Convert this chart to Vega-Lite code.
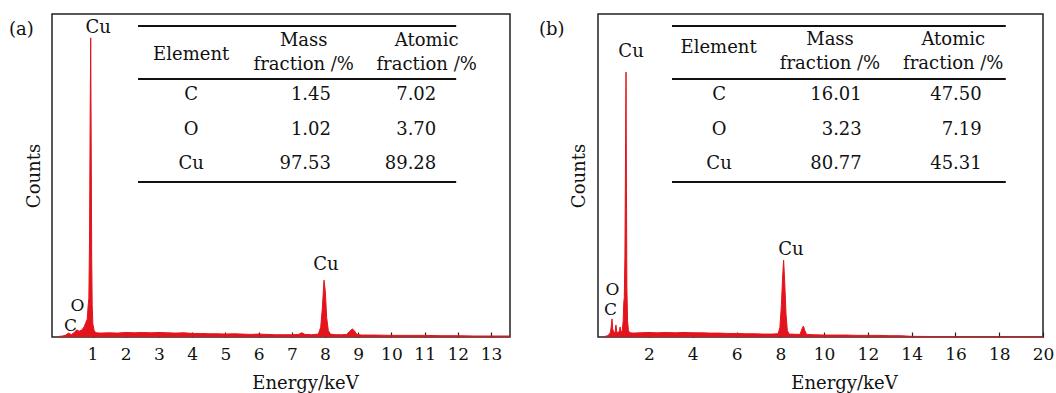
{
  "$schema": "https://vega.github.io/schema/vega-lite/v6.json",
  "background": "white",
  "padding": {"left": 8, "top": 13, "right": 5, "bottom": 0},
  "autosize": {"type": "pad"},
  "bounds": "flush",
  "spacing": 88,
  "config": {
    "font": "DejaVu Serif",
    "view": {"stroke": "#222", "strokeWidth": 1.5},
    "text": {"font": "DejaVu Serif", "color": "#111", "fontSize": 18},
    "rule": {"color": "#111", "strokeWidth": 2},
    "axis": {"grid": false, "labelFont": "DejaVu Serif", "titleFont": "DejaVu Serif", "labelColor": "#111", "titleColor": "#111", "titleFontWeight": "normal", "labelFontSize": 17, "titleFontSize": 18, "labelOverlap": false},
    "axisX": {"labelOverlap": false, "labelFlush": false}
  },
  "datasets": {
    "spec_a": [
      {"energy": 0, "counts": 0.2}, {"energy": 0.1, "counts": 0.3}, {"energy": 0.2, "counts": 0.6}, {"energy": 0.28, "counts": 1.2},
      {"energy": 0.36, "counts": 0.7}, {"energy": 0.45, "counts": 1.4}, {"energy": 0.52, "counts": 2.2}, {"energy": 0.6, "counts": 1.8},
      {"energy": 0.68, "counts": 2.2}, {"energy": 0.75, "counts": 3.2}, {"energy": 0.8, "counts": 4.5}, {"energy": 0.84, "counts": 5.5},
      {"energy": 0.87, "counts": 9.9}, {"energy": 0.89, "counts": 12}, {"energy": 0.91, "counts": 30}, {"energy": 0.93, "counts": 70},
      {"energy": 0.945, "counts": 92.6}, {"energy": 0.96, "counts": 60}, {"energy": 0.975, "counts": 25}, {"energy": 0.99, "counts": 10},
      {"energy": 1.01, "counts": 4}, {"energy": 1.05, "counts": 2}, {"energy": 1.1, "counts": 1.3}, {"energy": 1.25, "counts": 1.2},
      {"energy": 1.5, "counts": 1.3}, {"energy": 1.75, "counts": 1.2}, {"energy": 2.0, "counts": 1.4}, {"energy": 2.25, "counts": 1.3},
      {"energy": 2.5, "counts": 1.4}, {"energy": 2.75, "counts": 1.3}, {"energy": 3.0, "counts": 1.4}, {"energy": 3.25, "counts": 1.3},
      {"energy": 3.5, "counts": 1.2}, {"energy": 3.75, "counts": 1.3}, {"energy": 4.0, "counts": 1.1}, {"energy": 4.25, "counts": 1.1},
      {"energy": 4.5, "counts": 1.0}, {"energy": 4.75, "counts": 1.0}, {"energy": 5.0, "counts": 0.9}, {"energy": 5.25, "counts": 1.0},
      {"energy": 5.5, "counts": 0.9}, {"energy": 5.75, "counts": 0.8}, {"energy": 6.0, "counts": 0.9}, {"energy": 6.25, "counts": 0.8},
      {"energy": 6.5, "counts": 0.7}, {"energy": 6.75, "counts": 0.7}, {"energy": 7.0, "counts": 0.7}, {"energy": 7.2, "counts": 0.8},
      {"energy": 7.3, "counts": 1.3}, {"energy": 7.4, "counts": 0.8}, {"energy": 7.6, "counts": 0.7}, {"energy": 7.8, "counts": 0.9},
      {"energy": 7.87, "counts": 3}, {"energy": 7.92, "counts": 9}, {"energy": 7.97, "counts": 17.6}, {"energy": 8.01, "counts": 14},
      {"energy": 8.05, "counts": 6}, {"energy": 8.1, "counts": 2}, {"energy": 8.16, "counts": 0.9}, {"energy": 8.3, "counts": 0.7},
      {"energy": 8.5, "counts": 0.7}, {"energy": 8.65, "counts": 0.8}, {"energy": 8.75, "counts": 1.8}, {"energy": 8.82, "counts": 2.5},
      {"energy": 8.88, "counts": 2.0}, {"energy": 8.96, "counts": 0.8}, {"energy": 9.1, "counts": 0.6}, {"energy": 9.5, "counts": 0.6},
      {"energy": 10, "counts": 0.5}, {"energy": 10.5, "counts": 0.5}, {"energy": 11, "counts": 0.5}, {"energy": 11.5, "counts": 0.4},
      {"energy": 12, "counts": 0.4}, {"energy": 12.5, "counts": 0.3}, {"energy": 13, "counts": 0.3}, {"energy": 13.57, "counts": 0.3}
    ],
    "spec_b": [
      {"energy": 0, "counts": 0.2}, {"energy": 0.1, "counts": 0.4}, {"energy": 0.18, "counts": 0.8}, {"energy": 0.24, "counts": 1.5},
      {"energy": 0.28, "counts": 3.5}, {"energy": 0.31, "counts": 5.6}, {"energy": 0.34, "counts": 2.5}, {"energy": 0.4, "counts": 1.2},
      {"energy": 0.45, "counts": 1.5}, {"energy": 0.49, "counts": 3.7}, {"energy": 0.53, "counts": 1.5}, {"energy": 0.6, "counts": 1.3},
      {"energy": 0.65, "counts": 2.0}, {"energy": 0.68, "counts": 3.1}, {"energy": 0.72, "counts": 1.6}, {"energy": 0.78, "counts": 2.0},
      {"energy": 0.82, "counts": 5}, {"energy": 0.85, "counts": 11}, {"energy": 0.87, "counts": 12}, {"energy": 0.9, "counts": 25},
      {"energy": 0.93, "counts": 60}, {"energy": 0.95, "counts": 82}, {"energy": 0.97, "counts": 45}, {"energy": 0.99, "counts": 15},
      {"energy": 1.02, "counts": 5}, {"energy": 1.06, "counts": 2}, {"energy": 1.12, "counts": 1.3}, {"energy": 1.3, "counts": 1.2},
      {"energy": 1.6, "counts": 1.3}, {"energy": 2.0, "counts": 1.4}, {"energy": 2.4, "counts": 1.3}, {"energy": 2.8, "counts": 1.4},
      {"energy": 3.2, "counts": 1.3}, {"energy": 3.6, "counts": 1.4}, {"energy": 4.0, "counts": 1.3}, {"energy": 4.4, "counts": 1.3},
      {"energy": 4.8, "counts": 1.2}, {"energy": 5.2, "counts": 1.2}, {"energy": 5.6, "counts": 1.1}, {"energy": 6.0, "counts": 1.1},
      {"energy": 6.4, "counts": 1.0}, {"energy": 6.8, "counts": 1.0}, {"energy": 7.2, "counts": 0.9}, {"energy": 7.6, "counts": 0.9},
      {"energy": 7.9, "counts": 1.0}, {"energy": 7.98, "counts": 3}, {"energy": 8.05, "counts": 10}, {"energy": 8.1, "counts": 18},
      {"energy": 8.15, "counts": 23.8}, {"energy": 8.2, "counts": 17}, {"energy": 8.26, "counts": 7}, {"energy": 8.32, "counts": 2},
      {"energy": 8.4, "counts": 0.9}, {"energy": 8.9, "counts": 0.8}, {"energy": 8.97, "counts": 2.2}, {"energy": 9.05, "counts": 3.4},
      {"energy": 9.12, "counts": 2.0}, {"energy": 9.2, "counts": 0.8}, {"energy": 9.5, "counts": 0.7}, {"energy": 10, "counts": 0.6},
      {"energy": 10.5, "counts": 0.6}, {"energy": 11, "counts": 0.6}, {"energy": 11.5, "counts": 0.5}, {"energy": 12, "counts": 0.5},
      {"energy": 12.5, "counts": 0.5}, {"energy": 13, "counts": 0.4}, {"energy": 13.5, "counts": 0.4}, {"energy": 14, "counts": 0.2},
      {"energy": 15, "counts": 0.15}, {"energy": 16, "counts": 0.15}, {"energy": 17, "counts": 0.1}, {"energy": 18, "counts": 0.1},
      {"energy": 19, "counts": 0.1}, {"energy": 20, "counts": 0.1}
    ],
    "labels_a": [
      {"label": "Cu", "energy": 1.17, "counts": 95.7, "size": "big"},
      {"label": "Cu", "energy": 8.03, "counts": 22.3, "size": "big"},
      {"label": "C", "energy": 0.34, "counts": 3.4, "size": "small"},
      {"label": "O", "energy": 0.55, "counts": 9.6, "size": "small"}
    ],
    "labels_b": [
      {"label": "Cu", "energy": 1.18, "counts": 88.2, "size": "big"},
      {"label": "Cu", "energy": 8.48, "counts": 26.9, "size": "big"},
      {"label": "C", "energy": 0.24, "counts": 8.4, "size": "small"},
      {"label": "O", "energy": 0.33, "counts": 14.6, "size": "small"}
    ],
    "table_a": [
      {"element": "C", "mass": "1.45", "atomic": "7.02"},
      {"element": "O", "mass": "1.02", "atomic": "3.70"},
      {"element": "Cu", "mass": "97.53", "atomic": "89.28"}
    ],
    "table_b": [
      {"element": "C", "mass": "16.01", "atomic": "47.50"},
      {"element": "O", "mass": "3.23", "atomic": "7.19"},
      {"element": "Cu", "mass": "80.77", "atomic": "45.31"}
    ]
  },
  "hconcat": [
    {
      "width": 458,
      "height": 323,
      "title": {"text": "(a)", "anchor": "start", "frame": "group", "orient": "top", "offset": 0, "baseline": "top", "dx": -43, "dy": 24.5, "fontSize": 18, "fontWeight": "normal", "font": "DejaVu Serif", "color": "#111"},
      "layer": [
        {
          "layer": [
            {
              "data": {"name": "spec_a"},
              "mark": {"type": "area", "color": "#e3141b", "stroke": "#e3141b", "strokeWidth": 1, "clip": true},
              "encoding": {
                "x": {"field": "energy", "type": "quantitative", "title": "Energy/keV",
                  "scale": {"domain": [-0.22, 13.57], "nice": false, "zero": false},
                  "axis": {"values": [1,2,3,4,5,6,7,8,9,10,11,12,13], "tickCount": 20, "format": "d", "domain": false, "tickSize": -5, "tickColor": "#222", "tickWidth": 1.2, "labelPadding": 14, "titlePadding": 12, "titleX": 253, "labelOverlap": false, "labelFlush": false}},
                "y": {"field": "counts", "type": "quantitative", "title": "Counts",
                  "scale": {"domain": [0, 100], "nice": false},
                  "axis": {"labels": false, "ticks": false, "domain": false, "titlePadding": 9}}
              }
            },
            {
              "data": {"name": "labels_a"},
              "mark": {"type": "text", "align": "center", "baseline": "middle"},
              "encoding": {
                "x": {"field": "energy", "type": "quantitative"},
                "y": {"field": "counts", "type": "quantitative"},
                "text": {"field": "label", "type": "nominal"},
                "size": {"field": "size", "type": "nominal", "scale": {"domain": ["big", "small"], "range": [18, 17]}, "legend": null}
              }
            },
            {"data": {"values": [{}]}, "mark": {"type": "rule"}, "encoding": {"x": {"datum": 2.37}, "x2": {"datum": 11.95}, "y": {"datum": 96.3}}},
            {"data": {"values": [{}]}, "mark": {"type": "rule"}, "encoding": {"x": {"datum": 2.37}, "x2": {"datum": 11.95}, "y": {"datum": 79.9}}},
            {"data": {"values": [{}]}, "mark": {"type": "rule"}, "encoding": {"x": {"datum": 2.37}, "x2": {"datum": 11.95}, "y": {"datum": 48.0}}},
            {"data": {"values": [{}]}, "mark": {"type": "text", "text": "Element", "align": "center", "baseline": "middle"}, "encoding": {"x": {"datum": 3.97}, "y": {"datum": 87.4}}},
            {"data": {"values": [{}]}, "mark": {"type": "text", "text": "Mass\nfraction /%", "lineBreak": "\n", "lineHeight": 24, "align": "center", "baseline": "middle"}, "encoding": {"x": {"datum": 7.36}, "y": {"datum": 91.5}}},
            {"data": {"values": [{}]}, "mark": {"type": "text", "text": "Atomic\nfraction /%", "lineBreak": "\n", "lineHeight": 24, "align": "center", "baseline": "middle"}, "encoding": {"x": {"datum": 11.06}, "y": {"datum": 91.5}}}
          ]
        },
        {
          "data": {"name": "table_a"},
          "encoding": {"y": {"field": "element", "type": "nominal", "scale": {"type": "point", "domain": ["C", "O", "Cu"], "range": [81, 150], "padding": 0}, "axis": null}},
          "layer": [
            {"mark": {"type": "text", "align": "center", "baseline": "middle"}, "encoding": {"x": {"datum": 3.97}, "text": {"field": "element", "type": "nominal"}}},
            {"mark": {"type": "text", "align": "right", "baseline": "middle"}, "encoding": {"x": {"datum": 8.18}, "text": {"field": "mass", "type": "nominal"}}},
            {"mark": {"type": "text", "align": "right", "baseline": "middle"}, "encoding": {"x": {"datum": 11.35}, "text": {"field": "atomic", "type": "nominal"}}}
          ]
        }
      ],
      "resolve": {"scale": {"y": "independent"}}
    },
    {
      "width": 445,
      "height": 323,
      "title": {"text": "(b)", "anchor": "start", "frame": "group", "orient": "top", "offset": 0, "baseline": "top", "dx": -59, "dy": 24.5, "fontSize": 18, "fontWeight": "normal", "font": "DejaVu Serif", "color": "#111"},
      "layer": [
        {
          "layer": [
            {
              "data": {"name": "spec_b"},
              "mark": {"type": "area", "color": "#e3141b", "stroke": "#e3141b", "strokeWidth": 1, "clip": true},
              "encoding": {
                "x": {"field": "energy", "type": "quantitative", "title": "Energy/keV",
                  "scale": {"domain": [-0.33, 20], "nice": false, "zero": false},
                  "axis": {"values": [2,4,6,8,10,12,14,16,18,20], "tickCount": 20, "format": "d", "domain": false, "tickSize": -5, "tickColor": "#222", "tickWidth": 1.2, "labelPadding": 14, "titlePadding": 12, "titleX": 246, "labelOverlap": false, "labelFlush": false}},
                "y": {"field": "counts", "type": "quantitative", "title": "Counts",
                  "scale": {"domain": [0, 100], "nice": false},
                  "axis": {"labels": false, "ticks": false, "domain": false, "titlePadding": 10}}
              }
            },
            {
              "data": {"name": "labels_b"},
              "mark": {"type": "text", "align": "center", "baseline": "middle"},
              "encoding": {
                "x": {"field": "energy", "type": "quantitative"},
                "y": {"field": "counts", "type": "quantitative"},
                "text": {"field": "label", "type": "nominal"},
                "size": {"field": "size", "type": "nominal", "scale": {"domain": ["big", "small"], "range": [18, 17]}, "legend": null}
              }
            },
            {"data": {"values": [{}]}, "mark": {"type": "rule"}, "encoding": {"x": {"datum": 3.05}, "x2": {"datum": 18.3}, "y": {"datum": 96.3}}},
            {"data": {"values": [{}]}, "mark": {"type": "rule"}, "encoding": {"x": {"datum": 3.05}, "x2": {"datum": 18.3}, "y": {"datum": 79.9}}},
            {"data": {"values": [{}]}, "mark": {"type": "rule"}, "encoding": {"x": {"datum": 3.05}, "x2": {"datum": 18.3}, "y": {"datum": 48.0}}},
            {"data": {"values": [{}]}, "mark": {"type": "text", "text": "Element", "align": "center", "baseline": "middle"}, "encoding": {"x": {"datum": 5.18}, "y": {"datum": 89.6}}},
            {"data": {"values": [{}]}, "mark": {"type": "text", "text": "Mass\nfraction /%", "lineBreak": "\n", "lineHeight": 24, "align": "center", "baseline": "middle"}, "encoding": {"x": {"datum": 10.27}, "y": {"datum": 91.8}}},
            {"data": {"values": [{}]}, "mark": {"type": "text", "text": "Atomic\nfraction /%", "lineBreak": "\n", "lineHeight": 24, "align": "center", "baseline": "middle"}, "encoding": {"x": {"datum": 15.9}, "y": {"datum": 91.8}}}
          ]
        },
        {
          "data": {"name": "table_b"},
          "encoding": {"y": {"field": "element", "type": "nominal", "scale": {"type": "point", "domain": ["C", "O", "Cu"], "range": [81, 150], "padding": 0}, "axis": null}},
          "layer": [
            {"mark": {"type": "text", "align": "center", "baseline": "middle"}, "encoding": {"x": {"datum": 5.2}, "text": {"field": "element", "type": "nominal"}}},
            {"mark": {"type": "text", "align": "right", "baseline": "middle"}, "encoding": {"x": {"datum": 11.72}, "text": {"field": "mass", "type": "nominal"}}},
            {"mark": {"type": "text", "align": "right", "baseline": "middle"}, "encoding": {"x": {"datum": 17.2}, "text": {"field": "atomic", "type": "nominal"}}}
          ]
        }
      ],
      "resolve": {"scale": {"y": "independent"}}
    }
  ]
}
